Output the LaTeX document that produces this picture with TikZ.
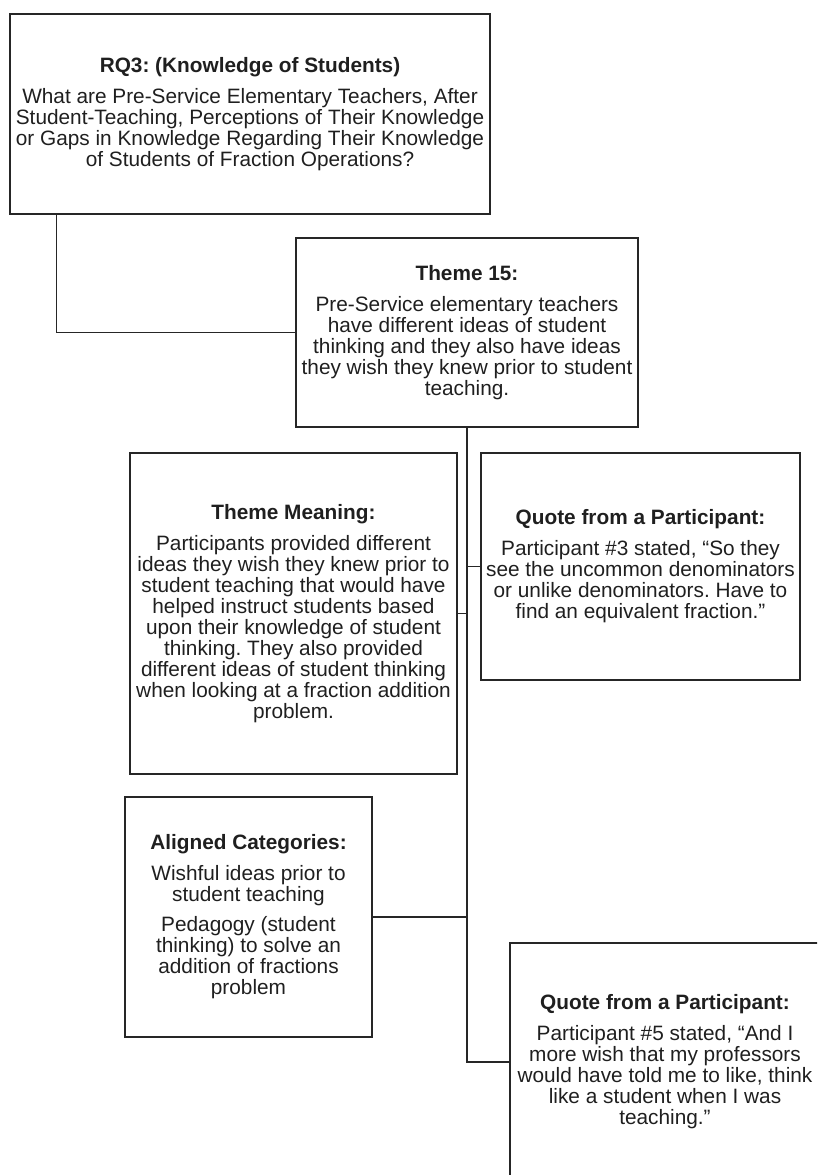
\documentclass[tikz,border=0pt]{standalone}
\usepackage{fontspec}
\setmainfont{Liberation Sans}
\frenchspacing
\begin{document}
\begin{tikzpicture}[x=1pt,y=1pt,
  box/.style={draw=black!85, line width=1.3pt, rectangle, inner sep=0pt,
    align=center, text=black!88,
    font=\fontsize{20.8}{21}\selectfont},
  link/.style={draw=black!85, line width=1.3pt}]
\useasboundingbox (0,0) rectangle (817,-1175);
\clip (0,0) rectangle (817,-1175);

% research question
\node[box, minimum width=480, minimum height=200] (rq) at (250,-114)
  {\textbf{RQ3: (Knowledge of Students)}\\[10pt]
   What are Pre-Service Elementary Teachers, After\\
   Student-Teaching, Perceptions of Their Knowledge\\
   or Gaps in Knowledge Regarding Their Knowledge\\
   of Students of Fraction Operations?};

% theme
\node[box, minimum width=342, minimum height=189] (th) at (467,-332.5)
  {\textbf{Theme 15:}\\[10pt]
   Pre-Service elementary teachers\\
   have different ideas of student\\
   thinking and they also have ideas\\
   they wish they knew prior to student\\
   teaching.};

% theme meaning
\node[box, minimum width=327, minimum height=321] (tm) at (293.5,-613.5)
  {\textbf{Theme Meaning:}\\[10pt]
   Participants provided different\\
   ideas they wish they knew prior to\\
   student teaching that would have\\
   helped instruct students based\\
   upon their knowledge of student\\
   thinking. They also provided\\
   different ideas of student thinking\\
   when looking at a fraction addition\\
   problem.};

% first quote
\node[box, minimum width=319, minimum height=227] (qa) at (640.5,-566.5)
  {\textbf{Quote from a Participant:}\\[10pt]
   Participant \#3 stated, “So they\\
   see the uncommon denominators\\
   or unlike denominators. Have to\\
   find an equivalent fraction.”};

% aligned categories
\node[box, minimum width=247, minimum height=240] (ac) at (248.5,-917)
  {\textbf{Aligned Categories:}\\[10pt]
   Wishful ideas prior to\\
   student teaching\\[9pt]
   Pedagogy (student\\
   thinking) to solve an\\
   addition of fractions\\
   problem};

% second quote
\node[box, minimum width=310, minimum height=238] (qb) at (665,-1062)
  {\textbf{Quote from a Participant:}\\[10pt]
   Participant \#5 stated, “And I\\
   more wish that my professors\\
   would have told me to like, think\\
   like a student when I was\\
   teaching.”};

% connectors
\draw[link] (rq.south west) ++(47,0) |- (th.west);
\draw[link] (th.south) -- (th.south |- qb.west) -- (qb.west);
\draw[link] (qa.west) -- (qa.west -| th.south);
\draw[link] (tm.east) -- (tm.east -| th.south);
\draw[link] (ac.east) -- (ac.east -| th.south);
\end{tikzpicture}
\end{document}
